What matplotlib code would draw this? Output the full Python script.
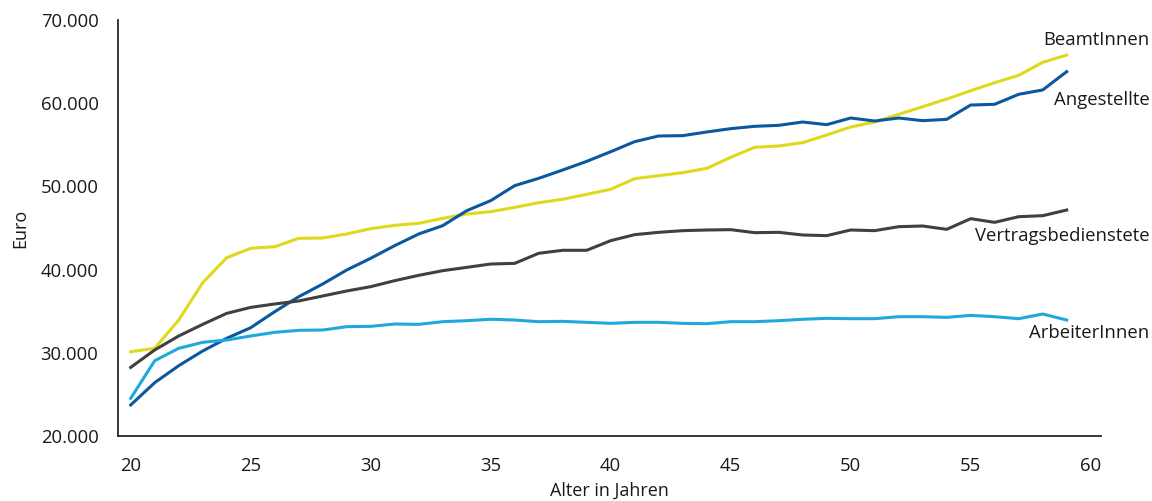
import matplotlib
matplotlib.use("Agg")
import matplotlib.pyplot as plt
from matplotlib.ticker import FuncFormatter

plt.rcParams['font.family'] = ['Open Sans', 'DejaVu Sans']

ages = list(range(20, 60))

beamte = [30130, 30540, 33940, 38430, 41430, 42560, 42750, 43760, 43800, 44280,
          44920, 45320, 45560, 46160, 46680, 46960, 47480, 48040, 48450, 49050,
          49650, 50930, 51290, 51650, 52170, 53490, 54700, 54860, 55260, 56180,
          57140, 57740, 58660, 59580, 60500, 61500, 62470, 63350, 64910, 65790]

angestellte = [23730, 26410, 28450, 30220, 31740, 33020, 34940, 36740, 38270, 39950,
               41360, 42880, 44280, 45280, 47080, 48290, 50090, 50970, 51970, 53010,
               54170, 55380, 56060, 56100, 56540, 56940, 57220, 57340, 57740, 57420,
               58220, 57860, 58220, 57900, 58060, 59780, 59870, 61070, 61590, 63790]

vertrag = [28250, 30340, 32020, 33420, 34740, 35460, 35870, 36230, 36830, 37430,
           37950, 38670, 39310, 39870, 40270, 40670, 40750, 41960, 42320, 42320,
           43480, 44200, 44480, 44680, 44760, 44800, 44440, 44480, 44160, 44080,
           44760, 44680, 45160, 45240, 44840, 46120, 45680, 46360, 46480, 47160]

arbeiter = [24530, 29050, 30540, 31260, 31540, 32020, 32460, 32700, 32740, 33140,
            33180, 33460, 33420, 33740, 33860, 34030, 33940, 33740, 33780, 33660,
            33540, 33660, 33660, 33540, 33500, 33740, 33740, 33860, 34030, 34140,
            34100, 34100, 34340, 34340, 34260, 34500, 34340, 34100, 34660, 33940]

series_names = ["BeamtInnen", "Angestellte", "Vertragsbedienstete", "ArbeiterInnen"]
x_ticks = [20, 25, 30, 35, 40, 45, 50, 55, 60]
y_ticks = [20000, 30000, 40000, 50000, 60000, 70000]

colors = {"BeamtInnen": "#DEDA1B", "Angestellte": "#0A58A0",
          "Vertragsbedienstete": "#404040", "ArbeiterInnen": "#1FA8DE"}
data = {"BeamtInnen": beamte, "Angestellte": angestellte,
        "Vertragsbedienstete": vertrag, "ArbeiterInnen": arbeiter}
label_y = {"BeamtInnen": 67600, "Angestellte": 60380,
           "Vertragsbedienstete": 44040, "ArbeiterInnen": 32380}

fig = plt.figure(figsize=(11.52, 5.01), dpi=100)
ax = fig.add_axes([118/1152, 65/501, (1101-118)/1152, (436-20)/501])

for name in series_names:
    ax.plot(ages, data[name], color=colors[name], lw=2.2, solid_joinstyle='round')
    ax.text(62.45, label_y[name], name, ha='right', va='center', fontsize=13.3,
            color='#1a1a1a', clip_on=False)

ax.set_xlim(19.47, 60.43)
ax.set_ylim(20000, 70000)
ax.set_xticks(x_ticks)
ax.set_yticks(y_ticks)
ax.yaxis.set_major_formatter(FuncFormatter(lambda v, p: f"{int(v):,}".replace(",", ".")))
ax.tick_params(axis='both', length=0, labelsize=13.3, colors='#1a1a1a')
ax.tick_params(axis='x', pad=15)
ax.tick_params(axis='y', pad=14)
for s in ['top', 'right']:
    ax.spines[s].set_visible(False)
for s in ['left', 'bottom']:
    ax.spines[s].set_color('#262626')
    ax.spines[s].set_linewidth(1.3)

ax.set_xlabel("Alter in Jahren", fontsize=13, color='#1a1a1a', labelpad=5)
ax.set_ylabel("Euro", fontsize=13, color='#1a1a1a', labelpad=8)

fig.savefig("out.png", dpi=100)
